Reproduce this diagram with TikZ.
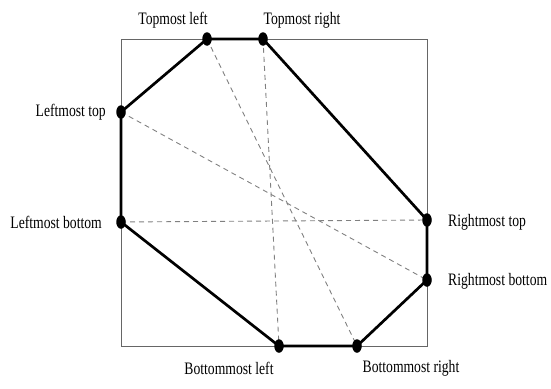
\documentclass[tikz,border=0pt]{standalone}
\usepackage{fontspec}
\setmainfont[FakeStretch=0.78]{Liberation Serif}
\usetikzlibrary{shapes.geometric}
\begin{document}
\begin{tikzpicture}[x=1pt,y=-1pt,
  dot/.style={ellipse,fill=black,inner sep=0pt,minimum width=9.5pt,minimum height=13.5pt},
  hull/.style={line width=2.7pt,line join=round},
  diag/.style={draw=gray,line width=0.9pt,dash pattern=on 5pt off 4pt},
  frame/.style={draw=gray!80!black,line width=0.9pt},
  lbl/.style={font=\fontsize{17.5}{20}\selectfont,inner sep=0pt}]
\useasboundingbox (0,0) rectangle (551,388);
\draw[frame] (121,39) rectangle (427,346);
\coordinate (TL) at (207,39);
\coordinate (TR) at (263,39);
\coordinate (LT) at (121,112);
\coordinate (LB) at (121,222);
\coordinate (RT) at (427,220);
\coordinate (RB) at (427,280);
\coordinate (BL) at (279,346);
\coordinate (BR) at (357,346);
\draw[diag] (TL) -- (BR);
\draw[diag] (TR) -- (BL);
\draw[diag] (LT) -- (RB);
\draw[diag] (LB) -- (RT);
\draw[hull] (TL) -- (TR) -- (RT) -- (RB) -- (BR) -- (BL) -- (LB) -- (LT) -- cycle;
\foreach \p in {TL,TR,LT,LB,RT,RB,BL,BR} \node[dot] (d\p) at (\p) {};
\node[lbl] (lTL) at (173,20) {Topmost left};
\node[lbl] (lTR) at (302,20) {Topmost right};
\node[lbl,anchor=east] (lLT) at (106,112) {Leftmost top};
\node[lbl,anchor=east] (lLB) at (102,222) {Leftmost bottom};
\node[lbl,anchor=west] (lRT) at (448,222) {Rightmost top};
\node[lbl,anchor=west] (lRB) at (448,281) {Rightmost bottom};
\node[lbl] (lBL) at (229,368) {Bottommost left};
\node[lbl] (lBR) at (411,368) {Bottommost right};
\end{tikzpicture}
\end{document}
